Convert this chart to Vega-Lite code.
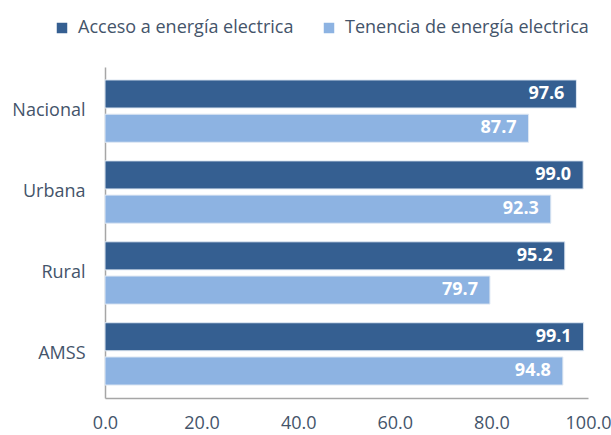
{
  "$schema": "https://vega.github.io/schema/vega-lite/v6.json",
  "width": 483,
  "height": 331,
  "autosize": {"type": "none"},
  "padding": {"left": 105, "top": 67, "right": 23, "bottom": 37},
  "background": "white",
  "config": {
    "view": {"stroke": null},
    "font": "Open Sans"
  },
  "data": {
    "values": [
      {"zona": "Nacional", "serie": "Acceso a energía electrica", "valor": 97.6},
      {"zona": "Nacional", "serie": "Tenencia de energía electrica", "valor": 87.7},
      {"zona": "Urbana", "serie": "Acceso a energía electrica", "valor": 99.0},
      {"zona": "Urbana", "serie": "Tenencia de energía electrica", "valor": 92.3},
      {"zona": "Rural", "serie": "Acceso a energía electrica", "valor": 95.2},
      {"zona": "Rural", "serie": "Tenencia de energía electrica", "valor": 79.7},
      {"zona": "AMSS", "serie": "Acceso a energía electrica", "valor": 99.1},
      {"zona": "AMSS", "serie": "Tenencia de energía electrica", "valor": 94.8}
    ]
  },
  "encoding": {
    "y": {
      "field": "zona",
      "type": "nominal",
      "sort": ["Nacional", "Urbana", "Rural", "AMSS"],
      "scale": {"paddingInner": 0.23, "paddingOuter": 0.16},
      "axis": {
        "title": null,
        "ticks": false,
        "domainColor": "#a6a6a6",
        "domainWidth": 1.5,
        "labelFontSize": 18,
        "labelColor": "#44546A",
        "labelPadding": 20
      }
    },
    "yOffset": {
      "field": "serie",
      "type": "nominal",
      "scale": {"paddingInner": 0.18}
    },
    "x": {
      "field": "valor",
      "type": "quantitative",
      "scale": {"domain": [0, 100], "nice": false},
      "axis": {
        "title": null,
        "values": [0, 20, 40, 60, 80, 100],
        "format": ".1f",
        "grid": false,
        "ticks": false,
        "domainColor": "#a6a6a6",
        "domainWidth": 1.5,
        "labelFontSize": 18,
        "labelColor": "#44546A",
        "labelPadding": 16,
        "labelFlush": false
      }
    }
  },
  "layer": [
    {
      "mark": {"type": "bar", "stroke": "#dfe8f3", "strokeWidth": 1},
      "encoding": {
        "color": {
          "field": "serie",
          "type": "nominal",
          "scale": {
            "domain": ["Acceso a energía electrica", "Tenencia de energía electrica"],
            "range": ["#355F91", "#8DB3E2"]
          },
          "legend": {
            "title": null,
            "orient": "none",
            "direction": "horizontal",
            "legendX": -52,
            "legendY": -48,
            "symbolType": "square",
            "symbolSize": 110,
            "symbolStrokeWidth": 0,
            "labelFontSize": 18,
            "labelLimit": 0,
            "labelColor": "#44546A",
            "columnPadding": 26,
            "labelOffset": 7
          }
        }
      }
    },
    {
      "mark": {"type": "text", "align": "right", "dx": -12, "fontSize": 18, "fontWeight": "bold", "color": "white"},
      "encoding": {
        "text": {"field": "valor", "type": "quantitative", "format": ".1f"}
      }
    }
  ]
}
